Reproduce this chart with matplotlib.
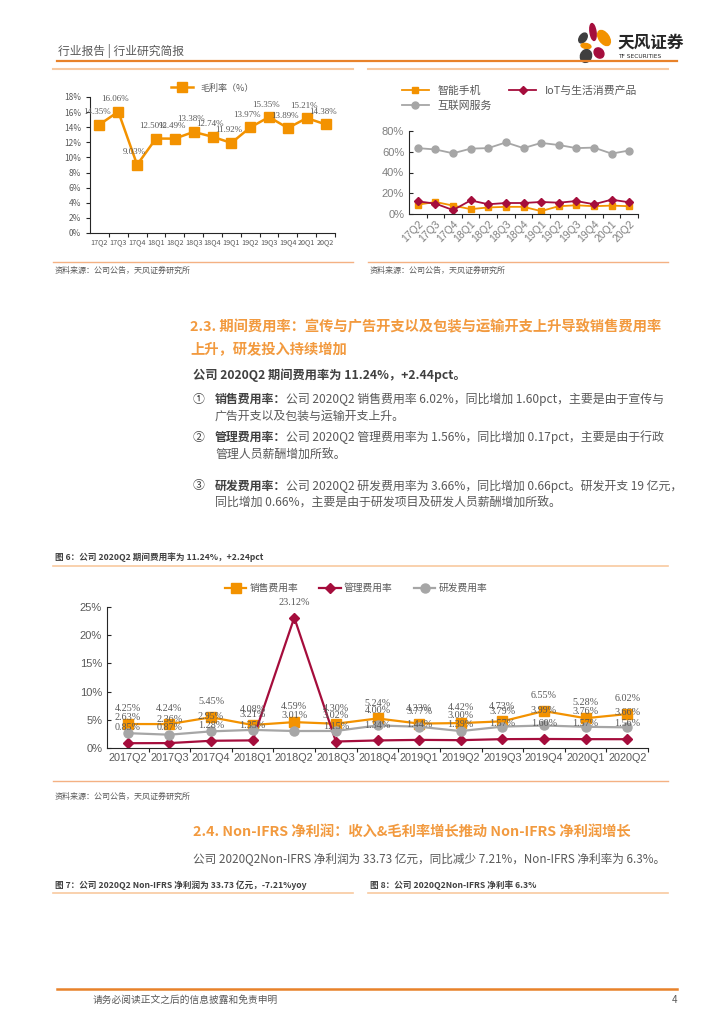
import matplotlib
matplotlib.use("Agg")
import matplotlib.pyplot as plt
from matplotlib.lines import Line2D
from matplotlib.patches import Ellipse
from matplotlib.ticker import FuncFormatter, FixedLocator

plt.rcParams["font.family"] = ["Noto Sans CJK SC", "DejaVu Sans"]

# ---- data ----
quarters_short = ["17Q2", "17Q3", "17Q4", "18Q1", "18Q2", "18Q3", "18Q4",
                  "19Q1", "19Q2", "19Q3", "19Q4", "20Q1", "20Q2"]
quarters_long = ["2017Q2", "2017Q3", "2017Q4", "2018Q1", "2018Q2", "2018Q3", "2018Q4",
                 "2019Q1", "2019Q2", "2019Q3", "2019Q4", "2020Q1", "2020Q2"]

gross_margin = [14.35, 16.06, 9.03, 12.50, 12.49, 13.38, 12.74, 11.92, 13.97, 15.35, 13.89, 15.21, 14.38]

seg_phone = [9.0, 11.6, 8.1, 4.7, 6.3, 6.9, 6.9, 2.8, 7.5, 8.4, 7.5, 8.1, 7.5]
seg_iot = [12.2, 10.0, 3.8, 13.1, 9.4, 10.6, 10.6, 11.6, 10.9, 12.5, 9.4, 13.8, 11.3]
seg_internet = [63.5, 62.2, 58.5, 63.0, 63.5, 69.0, 63.5, 68.5, 66.5, 63.5, 64.0, 58.2, 61.2]

sales_rate = [4.25, 4.24, 5.45, 4.08, 4.59, 4.30, 5.24, 4.33, 4.42, 4.73, 6.55, 5.28, 6.02]
admin_rate = [0.85, 0.87, 1.28, 1.35, 23.12, 1.15, 1.34, 1.44, 1.39, 1.57, 1.60, 1.57, 1.56]
rd_rate = [2.63, 2.36, 2.95, 3.21, 3.01, 3.02, 4.00, 3.77, 3.00, 3.79, 3.99, 3.76, 3.66]

ORANGE = "#F39200"
RED = "#A50D3C"
GREY = "#A6A6A6"
TXT = "#404040"
HEAD = "#F29A3F"

W, H = 724, 1024
fig = plt.figure(figsize=(W / 100, H / 100), dpi=100)


def ax_at(x0, y0, x1, y1):
    return fig.add_axes([x0 / W, 1 - y1 / H, (x1 - x0) / W, (y1 - y0) / H])


def txt(x, y, s, **kw):
    kw.setdefault("va", "center")
    kw.setdefault("ha", "left")
    fig.text(x / W, 1 - y / H, s, **kw)


def hline(x0, x1, y, color, lw):
    fig.add_artist(Line2D([x0 / W, x1 / W], [1 - y / H, 1 - y / H],
                          color=color, lw=lw, transform=fig.transFigure))


pct = FuncFormatter(lambda v, _: f"{v:.0f}%")


def style_axes(ax, n, ydir):
    for s in ["top", "right"]:
        ax.spines[s].set_visible(False)
    for s in ["left", "bottom"]:
        ax.spines[s].set_color("#262626")
        ax.spines[s].set_linewidth(0.8)
    ax.set_xlim(-0.5, n - 0.5)
    ax.set_xticks(range(n))
    ax.xaxis.set_minor_locator(FixedLocator([i + 0.5 for i in range(n)]))
    ax.tick_params(axis="x", which="major", length=0)
    ax.tick_params(axis="x", which="minor", length=3, width=0.8, color="#262626")
    ax.tick_params(axis="y", direction=ydir, length=3, width=0.8, color="#262626")
    ax.yaxis.set_major_formatter(pct)


# ---- header ----
txt(58, 51, "行业报告 | 行业研究简报", fontsize=8.5, color="#595959")
hline(57, 677, 61, "#E8822A", 1.6)
hline(53, 353, 69, "#F8C9A0", 1.5)
hline(368, 668, 69, "#F8C9A0", 1.5)

logo = ax_at(575, 20, 615, 68)
logo.set_xlim(575, 615)
logo.set_ylim(68, 20)
logo.axis("off")
petals = [
    (593, 32, 6, 17, -8, RED),
    (583, 38, 7, 11, 35, "#3F3F3F"),
    (604, 38, 10, 17, -35, ORANGE),
    (586, 46, 10, 5, 10, ORANGE),
    (586, 56, 11, 13, 20, "#3F3F3F"),
    (599, 53, 9, 11, -40, RED),
]
for cx, cy, w, h, ang, c in petals:
    logo.add_patch(Ellipse((cx, cy), w, h, angle=ang, color=c))
txt(617, 43, "天风证券", fontsize=12, weight="bold", color="#262626")
txt(618, 56, "TF SECURITIES", fontsize=4.2, color="#262626", family="DejaVu Sans")

# ---- chart 1: gross margin ----
ax1 = ax_at(90, 97, 335, 233)
x = list(range(len(quarters_short)))
ax1.plot(x, gross_margin, color=ORANGE, lw=1.8, marker="s", ms=6.5, label="毛利率（%）")
ax1.set_ylim(0, 18)
ax1.set_yticks(range(0, 19, 2))
style_axes(ax1, len(x), "out")
ax1.set_xticklabels(quarters_short, fontsize=5.2, color="#595959")
ax1.tick_params(axis="y", labelsize=6, labelcolor="#595959")
for i, v in enumerate(gross_margin):
    ax1.annotate(f"{v:.2f}%", (i, v), xytext=(-2, 9), textcoords="offset points",
                 ha="center", va="center", fontsize=6.5, color="#595959",
                 family="Liberation Serif")
ax1.legend(loc="lower center", bbox_to_anchor=(0.5, 1.0), frameon=False,
           fontsize=6.5, handlelength=2.5, labelcolor="#595959",
           borderaxespad=0.1)

# ---- chart 2: segment margins ----
ax2 = ax_at(409, 131, 638, 214)
ax2.plot(x, seg_phone, color=ORANGE, lw=1.3, marker="s", ms=5, label="智能手机")
ax2.plot(x, seg_internet, color=GREY, lw=1.3, marker="o", ms=5, label="互联网服务")
ax2.plot(x, seg_iot, color=RED, lw=1.3, marker="D", ms=4, label="IoT与生活消费产品")
ax2.set_ylim(0, 80)
ax2.set_yticks(range(0, 81, 20))
style_axes(ax2, len(x), "in")
ax2.set_xticklabels(quarters_short, fontsize=7.5, color="#7F7F7F", rotation=45,
                    ha="right", rotation_mode="anchor", family="Liberation Sans")
ax2.tick_params(axis="y", labelsize=8, labelcolor="#7F7F7F")
for lab in ax2.get_yticklabels():
    lab.set_family("Liberation Sans")
ax2.legend(loc="upper left", bbox_to_anchor=(392 / W, 1 - 76 / H),
           bbox_transform=fig.transFigure, ncol=2, frameon=False, fontsize=7.8,
           labelcolor="#595959", handlelength=2.5, columnspacing=1.6,
           labelspacing=0.45)

hline(53, 353, 262, "#F4B183", 1.0)
hline(368, 668, 262, "#F4B183", 1.0)
txt(55, 270, "资料来源：公司公告，天风证券研究所", fontsize=5.8, color="#595959")
txt(370, 270, "资料来源：公司公告，天风证券研究所", fontsize=5.8, color="#595959")

# ---- section 2.3 text ----
txt(190, 327, "2.3. 期间费用率：宣传与广告开支以及包装与运输开支上升导致销售费用率",
    fontsize=10.3, color=HEAD, weight="bold")
txt(190, 350, "上升，研发投入持续增加", fontsize=10.3, color=HEAD, weight="bold")
txt(193, 375, "公司 2020Q2 期间费用率为 11.24%，+2.44pct。", fontsize=8.8,
    color=TXT, weight="bold")

items = [
    ("①", 399, "销售费用率：", "公司 2020Q2 销售费用率 6.02%，同比增加 1.60pct，主要是由于宣传与",
     "广告开支以及包装与运输开支上升。"),
    ("②", 437, "管理费用率：", "公司 2020Q2 管理费用率为 1.56%，同比增加 0.17pct，主要是由于行政",
     "管理人员薪酬增加所致。"),
    ("③", 486, "研发费用率：", "公司 2020Q2 研发费用率为 3.66%，同比增加 0.66pct。研发开支 19 亿元，",
     "同比增加 0.66%，主要是由于研发项目及研发人员薪酬增加所致。"),
]
for num, y, bold, rest, line2 in items:
    txt(193, y, num, fontsize=8.6, color=TXT)
    txt(215, y, bold, fontsize=8.6, color=TXT, weight="bold")
    txt(286, y, rest, fontsize=8.6, color="#595959")
    txt(215, y + 17, line2, fontsize=8.6, color="#595959")

# ---- chart 3: expense ratios ----
txt(55, 557, "图 6：公司 2020Q2 期间费用率为 11.24%，+2.24pct", fontsize=6.2,
    color=TXT, weight="bold")
hline(53, 668, 566, "#F8C9A0", 1.2)

ax3 = ax_at(107, 607, 648, 748)
ax3.plot(x, sales_rate, color=ORANGE, lw=1.6, marker="s", ms=6.5, label="销售费用率")
ax3.plot(x, admin_rate, color=RED, lw=1.6, marker="D", ms=5.5, label="管理费用率")
ax3.plot(x, rd_rate, color=GREY, lw=1.6, marker="o", ms=6.5, label="研发费用率")
ax3.set_ylim(0, 25)
ax3.set_yticks(range(0, 26, 5))
style_axes(ax3, len(x), "in")
ax3.set_xticklabels(quarters_long, fontsize=7.8, color="#595959", family="Liberation Sans")
ax3.tick_params(axis="y", labelsize=8, labelcolor="#595959")
for lab in ax3.get_yticklabels():
    lab.set_family("Liberation Sans")
for series in (sales_rate, rd_rate, admin_rate):
    for i, v in enumerate(series):
        ax3.annotate(f"{v:.2f}%", (i, v), xytext=(0, 11), textcoords="offset points",
                     ha="center", va="center", fontsize=7.3, color="#595959",
                     family="Liberation Serif")
ax3.legend(loc="center", bbox_to_anchor=(356 / W, 1 - 588 / H),
           bbox_transform=fig.transFigure, ncol=3, frameon=False, fontsize=7,
           labelcolor="#595959", handlelength=2.2, columnspacing=2.2,
           handletextpad=0.3)

hline(53, 668, 781, "#F4B183", 1.0)
txt(55, 796, "资料来源：公司公告，天风证券研究所", fontsize=5.8, color="#595959")

# ---- section 2.4 text ----
txt(193, 832, "2.4. Non-IFRS 净利润：收入&毛利率增长推动 Non-IFRS 净利润增长",
    fontsize=10.3, color=HEAD, weight="bold")
txt(193, 859, "公司 2020Q2Non-IFRS 净利润为 33.73 亿元，同比减少 7.21%，Non-IFRS 净利率为 6.3%。",
    fontsize=8.4, color="#595959")
txt(55, 885, "图 7：公司 2020Q2 Non-IFRS 净利润为 33.73 亿元，-7.21%yoy", fontsize=6.2,
    color=TXT, weight="bold")
txt(370, 885, "图 8：公司 2020Q2Non-IFRS 净利率 6.3%", fontsize=6.2, color=TXT, weight="bold")
hline(53, 353, 893, "#F8C9A0", 1.2)
hline(368, 668, 893, "#F8C9A0", 1.2)

# ---- footer ----
hline(57, 677, 989, "#E8822A", 1.8)
txt(93, 1000, "请务必阅读正文之后的信息披露和免责申明", fontsize=7, color="#595959")
txt(672, 1000, "4", fontsize=7, color="#595959")

fig.savefig("out.png", dpi=100)
